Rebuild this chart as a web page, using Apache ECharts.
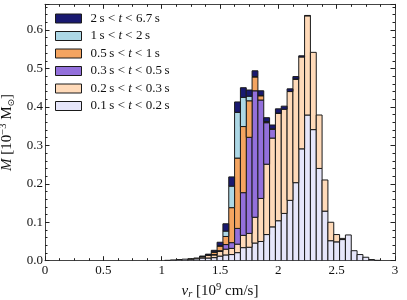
<!DOCTYPE html>
<html><head><meta charset="utf-8">
<script src="https://cdn.jsdelivr.net/npm/echarts@6/dist/echarts.min.js"></script>
<style>html,body{margin:0;padding:0;background:#fff}#c{width:407px;height:300px}</style>
</head><body><div id="c"></div>
<script>
// bin centres (10^9 cm/s), width 0.05
const binCenters = [1.05,1.1,1.15,1.2,1.25,1.3,1.35,1.4,1.45,1.5,1.55,1.6,1.65,1.7,1.75,1.8,1.85,1.9,1.95,2.0,2.05,2.1,2.15,2.2,2.25,2.3,2.35,2.4,2.45,2.5,2.55,2.6,2.65,2.7,2.75,2.8,2.85];
const binWidth = 0.05;

// stacked components, bottom to top (10^-3 Msun)
const m_01_02 = [0.001,0.002,0.003,0.004,0.004,0.005,0.007,0.007,0.008,0.012,0.015,0.016,0.021,0.034,0.035,0.046,0.050,0.068,0.088,0.104,0.123,0.157,0.203,0.291,0.379,0.341,0.240,0.129,0.052,0.049,0.055,0.067,0.026,0.016,0.009,0.003,0.001];
const m_02_03 = [0,0,0,0,0.001,0.002,0.003,0.007,0.007,0.012,0.015,0.016,0.022,0.032,0.036,0.067,0.112,0.183,0.231,0.279,0.271,0.283,0.269,0.239,0.258,0.201,0.139,0.081,0.048,0.019,0.003,0,0,0,0,0,0];
const m_03_05 = [0,0,0,0,0,0,0,0,0.001,0.002,0.012,0.015,0.041,0.111,0.250,0.329,0.256,0.108,0.023,0.001,0,0,0.001,0,0,0,0,0,0,0,0,0,0,0,0,0,0];
const m_05_1  = [0,0,0,0,0,0,0.001,0.001,0.006,0.012,0.021,0.091,0.183,0.172,0.095,0.036,0.011,0.002,0.001,0,0,0,0,0,0,0,0,0,0,0,0,0,0,0,0,0,0];
const m_1_2   = [0,0,0,0,0,0,0,0,0.001,0.001,0.014,0.056,0.119,0.076,0.012,0.001,0.001,0.001,0,0,0,0,0,0,0,0,0,0,0,0,0,0,0,0,0,0,0];
const m_2_67  = [0,0,0,0,0,0,0.001,0.002,0.004,0.009,0.019,0.024,0.027,0.025,0.016,0.015,0.012,0.010,0.010,0.011,0.008,0.007,0.006,0.003,0.001,0,0,0,0,0,0,0,0,0,0,0,0];

const seriesNames = ['0.1 s < t < 0.2 s','0.2 s < t < 0.3 s','0.3 s < t < 0.5 s','0.5 s < t < 1 s','1 s < t < 2 s','2 s < t < 6.7 s'];
const legendLabels = ['0.1\u2009s < {i|t} < 0.2\u2009s','0.2\u2009s < {i|t} < 0.3\u2009s','0.3\u2009s < {i|t} < 0.5\u2009s','0.5\u2009s < {i|t} < 1\u2009s','1\u2009s < {i|t} < 2\u2009s','2\u2009s < {i|t} < 6.7\u2009s'];
const seriesValues = [m_01_02, m_02_03, m_03_05, m_05_1, m_1_2, m_2_67];
const seriesColors = ['#e6e6fa','#ffdab9','#9370db','#f4a460','#add8e6','#191970'];

const xTickLabels = ['0','0.5','1','1.5','2','2.5','3'];
const yTickLabels = ['0.0','0.1','0.2','0.3','0.4','0.5','0.6'];

const FONT = 'Liberation Serif';
const XMAX = 3, YMAX = 0.667;

const base = binCenters.map(() => 0);
const series = seriesValues.map((vals, s) => {
  const data = binCenters.map((c, i) => {
    const b = base[i], t = b + vals[i];
    base[i] = t;
    return [c - binWidth / 2, c + binWidth / 2, b, t];
  });
  return {
    type: 'custom', name: seriesNames[s], xAxisIndex: 0, yAxisIndex: 0,
    itemStyle: { color: seriesColors[s], borderColor: '#1a1a1a', borderWidth: 1 },
    encode: { x: [0, 1], y: [2, 3] },
    clip: true,
    renderItem: function (params, api) {
      const x0 = api.value(0), x1 = api.value(1), b = api.value(2), t = api.value(3);
      if (t - b <= 1e-9) return null;
      const p0 = api.coord([x0, t]);
      const p1 = api.coord([x1, b]);
      return { type: 'rect',
        shape: { x: p0[0], y: p0[1], width: p1[0] - p0[0], height: p1[1] - p0[1] },
        style: { fill: api.visual('color'), stroke: '#1a1a1a', lineWidth: 1 } };
    },
    data: data
  };
});

const lineCol = '#444';
function xAx(pos, interval, len, labels, line) {
  return { type: 'value', position: pos, min: 0, max: XMAX, interval: interval,
    axisLine: { show: line, onZero: false, lineStyle: { color: lineCol, width: 1 } },
    axisTick: { show: true, inside: true, length: len, lineStyle: { color: '#222', width: 1 } },
    splitLine: { show: false },
    axisLabel: { show: labels, margin: 3, color: '#111', fontFamily: FONT, fontSize: 13,
      formatter: v => { const k = Math.round(v / 0.5); return Math.abs(v - k * 0.5) < 1e-6 ? xTickLabels[k] : ''; } } };
}
function yAx(pos, interval, len, labels, line) {
  return { type: 'value', position: pos, min: 0, max: YMAX, interval: interval,
    axisLine: { show: line, onZero: false, lineStyle: { color: lineCol, width: 1 } },
    axisTick: { show: true, inside: true, length: len, lineStyle: { color: '#222', width: 1 } },
    splitLine: { show: false },
    axisLabel: { show: labels, margin: 2, color: '#111', fontFamily: FONT, fontSize: 13,
      formatter: v => { const k = Math.round(v / 0.1); return Math.abs(v - k * 0.1) < 1e-6 && k < yTickLabels.length ? yTickLabels[k] : ''; } } };
}

const nameRich = {
  i: { fontStyle: 'italic', fontFamily: FONT, fontSize: 15, lineHeight: 18 },
  sub: { fontFamily: FONT, fontSize: 10.5, verticalAlign: 'bottom', lineHeight: 10 },
  subi: { fontStyle: 'italic', fontFamily: FONT, fontSize: 10.5, verticalAlign: 'bottom', lineHeight: 10 },
  sun: { fontFamily: 'DejaVu Sans', fontSize: 9, verticalAlign: 'bottom', lineHeight: 10 },
  sup: { fontFamily: FONT, fontSize: 10.5, verticalAlign: 'top', lineHeight: 10 }
};

const xAxes = [xAx('bottom', 0.5, 4.5, true, true), xAx('top', 0.5, 4.5, false, true),
  xAx('bottom', 0.125, 2.5, false, false), xAx('top', 0.125, 2.5, false, false)];
xAxes[0].name = '{i|v}{subi|r} [10{sup|9} cm/s]';
xAxes[0].nameLocation = 'middle';
xAxes[0].nameGap = 20;
xAxes[0].nameTextStyle = { fontFamily: FONT, fontSize: 15, lineHeight: 18, color: '#111', rich: nameRich };

const yAxes = [yAx('left', 0.1, 4.5, true, true), yAx('right', 0.1, 4.5, false, true),
  yAx('left', 0.02, 2.5, false, false), yAx('right', 0.02, 2.5, false, false)];
yAxes[0].name = '{i|M} [10{sup|\u22123} M{sun|\u2299}]';
yAxes[0].nameLocation = 'middle';
yAxes[0].nameGap = 24;
yAxes[0].nameTextStyle = { fontFamily: FONT, fontSize: 15, lineHeight: 18, color: '#111', rich: nameRich };

const chart = echarts.init(document.getElementById('c'), null, { renderer: 'canvas' });
chart.setOption({
  animation: false,
  backgroundColor: '#fff',
  grid: { left: 45, right: 12, top: 4.3, bottom: 39.3, containLabel: false, outerBoundsMode: 'none' },
  xAxis: xAxes,
  yAxis: yAxes,
  legend: {
    left: 55, top: 9.75, orient: 'vertical', padding: 0, itemGap: 0,
    itemWidth: 26, itemHeight: 9, icon: 'rect',
    selectedMode: false,
    data: seriesNames.slice().reverse(),
    itemStyle: { borderColor: '#1a1a1a', borderWidth: 1 },
    formatter: name => legendLabels[seriesNames.indexOf(name)],
    textStyle: { fontFamily: FONT, fontSize: 13, color: '#111', lineHeight: 17.5, padding: [0, 0, 0, 4],
      rich: { i: { fontStyle: 'italic', fontFamily: FONT, fontSize: 13, lineHeight: 17.5 } } }
  },
  series: series
});
</script></body></html>
